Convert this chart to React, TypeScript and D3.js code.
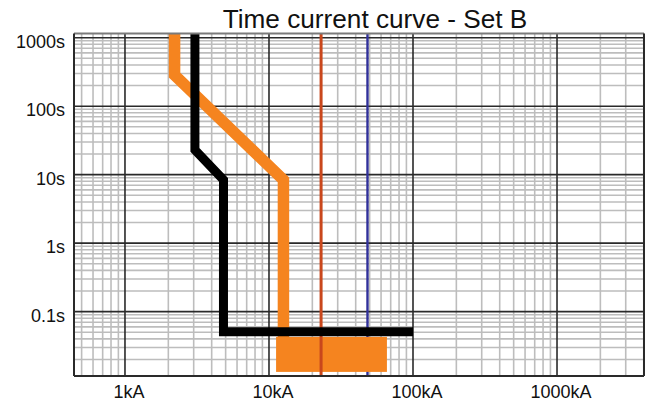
import React from "react";
import * as d3 from "d3";

const W = 647;
const H = 404;

// Axis ticks
const xTickValues = [1, 10, 100, 1000];
const xTickLabels = ["1kA", "10kA", "100kA", "1000kA"];
const yTickValues = [0.1, 1, 10, 100, 1000];
const yTickLabels = ["0.1s", "1s", "10s", "100s", "1000s"];

// Curves: current in kA, time in s
const blackCurveI = [3.06, 3.06, 4.83, 4.83, 100];
const blackCurveT = [1200, 23, 8.4, 0.051, 0.051];

const orangeCurveI = [2.21, 2.21, 12.6, 12.6];
const orangeCurveT = [1200, 285, 8.4, 0.02];

// Orange block (instantaneous region)
const blockI = [11.2, 65.9];
const blockT = [0.0132, 0.0428];

// Vertical reference lines
const redLineI = 23;
const blueLineI = 48.3;

const xDomain = [0.4426, 4018];
const yDomain = [0.0115, 1151];

export default function App() {
  const left = 74, right = 644, top = 33.5, bottom = 376;
  const x = d3.scaleLog().domain(xDomain).range([left, right]);
  const y = d3.scaleLog().domain(yDomain).range([bottom, top]);

  const minorX: number[] = [];
  for (let d = -1; d <= 3; d++) {
    for (let k = 2; k <= 9; k++) {
      const v = k * Math.pow(10, d);
      if (v > xDomain[0] && v < xDomain[1]) minorX.push(v);
    }
  }
  const minorY: number[] = [];
  for (let d = -2; d <= 3; d++) {
    for (let k = 2; k <= 9; k++) {
      const v = k * Math.pow(10, d);
      if (v > yDomain[0] && v < yDomain[1]) minorY.push(v);
    }
  }

  const line = d3
    .line<[number, number]>()
    .x((d) => x(d[0]))
    .y((d) => y(d[1]));

  const blackPts: [number, number][] = blackCurveI.map((v, i) => [v, blackCurveT[i]]);
  const orangePts: [number, number][] = orangeCurveI.map((v, i) => [v, orangeCurveT[i]]);

  const font = "'Liberation Sans', Arial, Helvetica, sans-serif";

  return (
    <svg
      width={W}
      height={H}
      style={{ position: "absolute", left: 0, top: 0, display: "block", background: "#fff" }}
    >
      <defs>
        <clipPath id="plotClip">
          <rect x={left} y={top} width={right - left} height={bottom - top} />
        </clipPath>
      </defs>
      <rect x={0} y={0} width={W} height={H} fill="#fff" />

      {/* minor grid */}
      <g stroke="#bdbdbd" strokeWidth={1.6}>
        {minorX.map((v, i) => (
          <line key={"mx" + i} x1={x(v)} x2={x(v)} y1={top} y2={bottom} />
        ))}
        {minorY.map((v, i) => (
          <line key={"my" + i} x1={left} x2={right} y1={y(v)} y2={y(v)} />
        ))}
      </g>
      {/* major grid */}
      <g stroke="#2a2a2a" strokeWidth={1.6}>
        {xTickValues.map((v, i) => (
          <line key={"Mx" + i} x1={x(v)} x2={x(v)} y1={top} y2={bottom} />
        ))}
        {yTickValues.map((v, i) => (
          <line key={"My" + i} x1={left} x2={right} y1={y(v)} y2={y(v)} />
        ))}
      </g>

      <g clipPath="url(#plotClip)">
        {/* blue line */}
        <line x1={x(blueLineI)} x2={x(blueLineI)} y1={top} y2={bottom} stroke="#30309a" strokeWidth={2.4} />
        {/* orange curve */}
        <path d={line(orangePts) || ""} fill="none" stroke="#f5841f" strokeWidth={11.5} strokeLinejoin="miter" strokeLinecap="butt" />
        <rect
          x={x(blockI[0])}
          y={y(blockT[1])}
          width={x(blockI[1]) - x(blockI[0])}
          height={y(blockT[0]) - y(blockT[1])}
          fill="#f5841f"
        />
        {/* red line */}
        <line x1={x(redLineI)} x2={x(redLineI)} y1={top} y2={bottom} stroke="#c9471c" strokeWidth={3} />
        {/* black curve */}
        <path d={line(blackPts) || ""} fill="none" stroke="#000" strokeWidth={9} strokeLinejoin="miter" strokeLinecap="butt" />
      </g>

      {/* border */}
      <line x1={left} x2={right} y1={top} y2={top} stroke="#7a7a7a" strokeWidth={2} />
      <line x1={left} x2={left} y1={top} y2={bottom} stroke="#2a2a2a" strokeWidth={2} />
      <line x1={right} x2={right} y1={top} y2={bottom} stroke="#2a2a2a" strokeWidth={2} />
      <line x1={left} x2={right} y1={bottom} y2={bottom} stroke="#2a2a2a" strokeWidth={2} />

      {/* axis labels */}
      <g fontFamily={font} fontSize={18} fill="#111">
        {yTickValues.map((v, i) => (
          <text key={"yl" + i} x={left - 9} y={y(v) + 10} textAnchor="end">
            {yTickLabels[i]}
          </text>
        ))}
        {xTickValues.map((v, i) => (
          <text key={"xl" + i} x={x(v) + 4} y={398} textAnchor="middle">
            {xTickLabels[i]}
          </text>
        ))}
      </g>

      <text x={375} y={28} textAnchor="middle" fontFamily={font} fontSize={26.2} fill="#111">
        Time current curve - Set B
      </text>
    </svg>
  );
}
